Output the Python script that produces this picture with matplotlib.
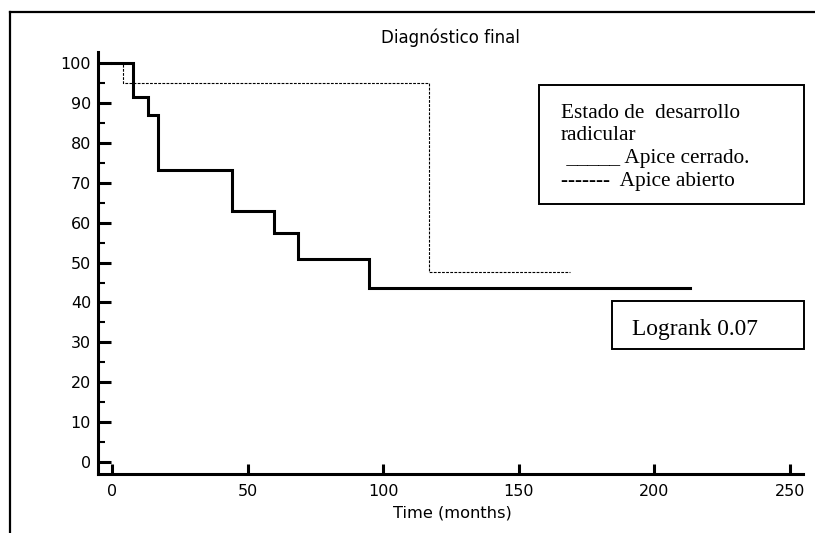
import matplotlib
matplotlib.use("Agg")
import matplotlib.pyplot as plt
from matplotlib.patches import Rectangle
from matplotlib.lines import Line2D
from matplotlib.ticker import MultipleLocator

# ---- data ----
closed_times = [0, 7.7, 13.3, 17.0, 44.2, 59.7, 68.6, 94.8, 213.0]
closed_surv = [100, 91.6, 87.0, 73.2, 62.9, 57.4, 50.9, 43.6, 43.6]
open_times = [0, 4.0, 116.9, 168.9]
open_surv = [100, 95.0, 47.6, 47.6]
x_ticks = [0, 50, 100, 150, 200, 250]
y_ticks = [0, 10, 20, 30, 40, 50, 60, 70, 80, 90, 100]
title = "Diagnóstico final"
x_label = "Time (months)"
legend_title = ["Estado de  desarrollo", "radicular"]
series_names = ["Apice cerrado.", "Apice abierto"]
logrank_text = "Logrank 0.07"

W, H = 815, 533
fig = plt.figure(figsize=(W / 100, H / 100), dpi=100)

def fx(px):
    return px / W

def fy(py):
    return 1 - py / H

# outer frame (top and left edges visible)
fig.add_artist(Line2D([fx(10), fx(816)], [fy(12), fy(12)], color="black", lw=1.6))
fig.add_artist(Line2D([fx(10), fx(10)], [fy(12), fy(534)], color="black", lw=1.6))

ax = fig.add_axes([fx(98), fy(474), fx(803) - fx(98), fy(52) - fy(474)])
ax.set_xlim(-5.2, 254.8)
ax.set_ylim(-3.0, 102.8)

ax.plot(closed_times, closed_surv, drawstyle="steps-post", color="black", lw=2.2,
        solid_joinstyle="miter")
ax.plot(open_times, open_surv, drawstyle="steps-post", color="black", lw=0.8,
        dashes=(2.5, 1.2))

for s in ["top", "right"]:
    ax.spines[s].set_visible(False)
for s in ["left", "bottom"]:
    ax.spines[s].set_linewidth(2.2)

ax.set_xticks(x_ticks)
ax.set_yticks(y_ticks)
ax.yaxis.set_minor_locator(MultipleLocator(5))
ax.tick_params(axis="both", which="major", direction="in", width=2.2,
               labelsize=11.5, colors="black")
ax.tick_params(axis="y", which="major", length=9, pad=5)
ax.tick_params(axis="x", which="major", length=7.5, pad=7)
ax.tick_params(axis="y", which="minor", direction="in", length=5, width=1.5)
for lab in ax.get_xticklabels() + ax.get_yticklabels():
    lab.set_family("DejaVu Sans")

ax.set_title(title, fontsize=12, family="DejaVu Sans", pad=6.5)
fig.text(fx(452), fy(518), x_label, ha="center", va="baseline",
         fontsize=11.7, family="DejaVu Sans")

# legend box
serif = "Liberation Serif"
fig.add_artist(Rectangle((fx(539), fy(204)), fx(804) - fx(539), fy(85) - fy(204),
                         fill=False, edgecolor="black", lw=1.4))
fig.text(fx(561), fy(117.7), legend_title[0], fontsize=15.3, family=serif, va="baseline")
fig.text(fx(561), fy(140.3), legend_title[1], fontsize=15.3, family=serif, va="baseline")
fig.text(fx(561), fy(163), " _____ " + series_names[0], fontsize=15.3, family=serif,
         va="baseline")
fig.text(fx(561), fy(185.7), "-------  " + series_names[1], fontsize=15.3, family=serif,
         va="baseline")

# logrank box
fig.add_artist(Rectangle((fx(612), fy(349)), fx(804) - fx(612), fy(301) - fy(349),
                         fill=False, edgecolor="black", lw=1.4))
fig.text(fx(632), fy(335), logrank_text, fontsize=16.8, family=serif, va="baseline")

fig.savefig("out.png", dpi=100)
